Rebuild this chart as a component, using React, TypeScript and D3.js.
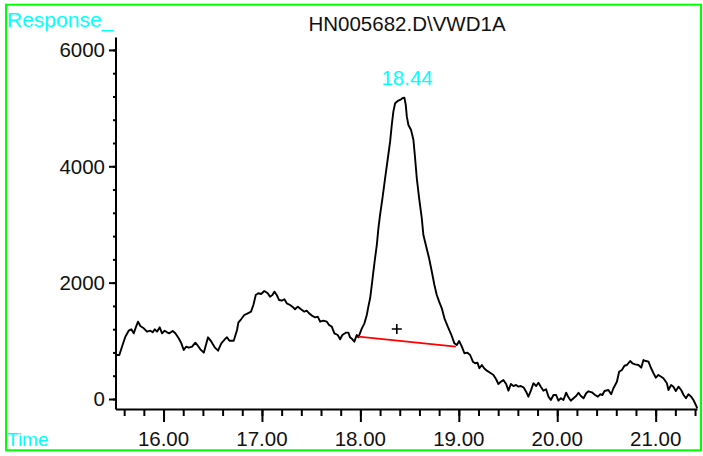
import React, { useRef, useEffect } from 'react';
import * as d3 from 'd3';

// trace (time in min, response)
const times = [
  15.510, 15.551, 15.578, 15.612, 15.646, 15.673, 15.697, 15.721, 15.741, 15.764,
  15.799, 15.832, 15.866, 15.890, 15.911, 15.934, 15.961, 15.985, 16.012, 16.036,
  16.059, 16.093, 16.120, 16.154, 16.181, 16.205, 16.229, 16.256, 16.290, 16.323,
  16.351, 16.374, 16.409, 16.452, 16.486, 16.520, 16.554, 16.587, 16.622, 16.645,
  16.669, 16.713, 16.747, 16.760, 16.788, 16.821, 16.856, 16.889, 16.913, 16.937,
  16.963, 16.991, 17.024, 17.059, 17.082, 17.106, 17.126, 17.150, 17.174, 17.201,
  17.228, 17.252, 17.286, 17.309, 17.336, 17.364, 17.397, 17.431, 17.455, 17.479,
  17.512, 17.540, 17.567, 17.591, 17.624, 17.659, 17.682, 17.709, 17.736, 17.770,
  17.794, 17.817, 17.852, 17.878, 17.895, 17.919, 17.939, 17.963, 17.980, 18.014,
  18.041, 18.065, 18.081, 18.099, 18.116, 18.132, 18.149, 18.167, 18.183, 18.200,
  18.224, 18.251, 18.279, 18.302, 18.319, 18.335, 18.353, 18.380, 18.404, 18.427,
  18.447, 18.461, 18.472, 18.488, 18.515, 18.539, 18.556, 18.573, 18.597, 18.624,
  18.640, 18.665, 18.698, 18.726, 18.752, 18.776, 18.800, 18.827, 18.854, 18.888,
  18.922, 18.955, 18.980, 19.003, 19.031, 19.057, 19.088, 19.115, 19.143, 19.166,
  19.189, 19.209, 19.234, 19.257, 19.285, 19.318, 19.352, 19.379, 19.402, 19.427,
  19.453, 19.481, 19.504, 19.529, 19.555, 19.582, 19.606, 19.630, 19.657, 19.684,
  19.707, 19.732, 19.758, 19.786, 19.809, 19.833, 19.860, 19.887, 19.911, 19.935,
  19.962, 19.989, 20.012, 20.037, 20.063, 20.091, 20.114, 20.138, 20.165, 20.192,
  20.216, 20.240, 20.267, 20.294, 20.317, 20.352, 20.385, 20.413, 20.436, 20.459,
  20.480, 20.520, 20.548, 20.571, 20.606, 20.629, 20.657, 20.683, 20.708, 20.741,
  20.764, 20.792, 20.825, 20.853, 20.876, 20.900, 20.927, 20.954, 20.978, 21.002,
  21.028, 21.056, 21.079, 21.114, 21.130, 21.157, 21.180, 21.205, 21.232, 21.259,
  21.284, 21.308, 21.333, 21.360, 21.384, 21.408, 21.422,
];
const responses = [
  756, 756, 899, 1071, 1174, 1198, 1129, 1243, 1329, 1255,
  1215, 1157, 1174, 1146, 1198, 1157, 1232, 1129, 1174, 1146,
  1129, 1169, 1129, 1043, 957, 842, 899, 882, 899, 968,
  911, 854, 796, 1060, 985, 888, 830, 957, 1026, 1060,
  1002, 1002, 1186, 1312, 1370, 1444, 1473, 1501, 1616, 1788,
  1817, 1805, 1857, 1817, 1759, 1788, 1845, 1788, 1702, 1690,
  1714, 1645, 1616, 1587, 1542, 1587, 1542, 1501, 1518, 1473,
  1427, 1404, 1415, 1329, 1346, 1329, 1272, 1243, 1129, 1100,
  1026, 1100, 1140, 1140, 1060, 1026, 985, 1100, 1060, 1210,
  1301, 1444, 1587, 1731, 1960, 2188, 2419, 2647, 2934, 3163,
  3450, 3794, 4138, 4423, 4710, 4939, 5083, 5123, 5140, 5169,
  5180, 5054, 4853, 4710, 4624, 4452, 4138, 3794, 3450, 3106,
  2819, 2647, 2419, 2188, 1960, 1788, 1673, 1559, 1387, 1243,
  1112, 957, 928, 997, 899, 786, 796, 756, 641, 614,
  624, 528, 584, 528, 487, 452, 413, 339, 258, 297,
  327, 258, 143, 258, 223, 241, 212, 223, 201, 126,
  40, 143, 270, 223, 280, 212, 143, 167, 40, -17,
  69, 69, -29, 12, -17, 108, 29, -29, 12, 52,
  108, 52, 12, 98, 132, 115, 69, 40, 81, 69,
  138, 155, 81, 184, 297, 469, 499, 572, 584, 653,
  614, 596, 584, 538, 670, 653, 641, 528, 442, 366,
  413, 383, 356, 270, 155, 241, 212, 138, 212, 155,
  69, 12, 81, 40, -17, -103, -160,
];

// integration baseline of the 18.44 peak
const baselineTimes = [17.98, 18.97];
const baselineValues = [1071, 899];
const peakLabel = '18.44';
const peakLabelTime = 18.475;
const peakLabelValue = 5400;
const markerTime = 18.37;
const markerValue = 1203;

const xMajorTicks = [16, 17, 18, 19, 20, 21];
const xTickLabels = ['16.00', '17.00', '18.00', '19.00', '20.00', '21.00'];
const yMajorTicks = [0, 2000, 4000, 6000];
const yTickLabels = ['0', '2000', '4000', '6000'];

const title = 'HN005682.D\\VWD1A';

const CYAN = '#00ffff';
const FONT = '"Liberation Sans", Arial, sans-serif';

const Chromatogram: React.FC = () => {
  const svgRef = useRef<SVGSVGElement | null>(null);

  useEffect(() => {
    if (!svgRef.current) return;
    const svg = d3.select(svgRef.current);
    svg.selectAll('*').remove();

    const x = d3.scaleLinear().domain([15.512, 21.42]).range([115.5, 697]);
    const y = d3.scaleLinear().domain([-172, 6222]).range([409, 37]);

    // green frame
    svg.append('rect')
      .attr('x', 6).attr('y', 4.7)
      .attr('width', 695).attr('height', 445.6)
      .attr('fill', 'none')
      .attr('stroke', '#00ff00')
      .attr('stroke-width', 2);

    // x axis: minor ticks then major ticks
    const xMinor = d3.range(15.6, 21.41, 0.2);
    svg.append('g')
      .attr('transform', 'translate(0,409)')
      .call(d3.axisBottom(x).tickValues(xMinor).tickSize(7).tickSizeOuter(0).tickFormat(() => ''))
      .call(g => g.selectAll('line').attr('stroke', '#000').attr('stroke-width', 2))
      .call(g => g.select('.domain').attr('stroke', '#000').attr('stroke-width', 2));
    svg.append('g')
      .attr('transform', 'translate(0,409)')
      .call(d3.axisBottom(x).tickValues(xMajorTicks).tickSize(13).tickSizeOuter(0).tickFormat(() => ''))
      .call(g => g.selectAll('line').attr('stroke', '#000').attr('stroke-width', 2))
      .call(g => g.select('.domain').remove());

    svg.append('g')
      .selectAll('text')
      .data(xMajorTicks)
      .join('text')
      .attr('x', d => x(d))
      .attr('y', 446)
      .attr('text-anchor', 'middle')
      .attr('font-family', FONT)
      .attr('font-size', 20.5)
      .attr('fill', '#111')
      .text((d, i) => xTickLabels[i]);

    // y axis
    const yMinor = d3.range(0, 6001, 400);
    svg.append('g')
      .attr('transform', 'translate(115.5,0)')
      .call(d3.axisLeft(y).tickValues(yMinor).tickSize(2.5).tickSizeOuter(0).tickFormat(() => ''))
      .call(g => g.selectAll('line').attr('stroke', '#000').attr('stroke-width', 2))
      .call(g => g.select('.domain').attr('stroke', '#000').attr('stroke-width', 2));
    svg.append('g')
      .attr('transform', 'translate(115.5,0)')
      .call(d3.axisLeft(y).tickValues(yMajorTicks).tickSize(6.5).tickSizeOuter(0).tickFormat(() => ''))
      .call(g => g.selectAll('line').attr('stroke', '#000').attr('stroke-width', 2))
      .call(g => g.select('.domain').remove());

    svg.append('g')
      .selectAll('text')
      .data(yMajorTicks)
      .join('text')
      .attr('x', 105)
      .attr('y', d => y(d))
      .attr('dy', '0.36em')
      .attr('text-anchor', 'end')
      .attr('font-family', FONT)
      .attr('font-size', 20.5)
      .attr('fill', '#111')
      .text((d, i) => yTickLabels[i]);

    // signal trace
    const pts = times.map((t, i) => [t, responses[i]] as [number, number]);
    svg.append('path')
      .datum(pts)
      .attr('fill', 'none')
      .attr('stroke', '#000')
      .attr('stroke-width', 1.9)
      .attr('stroke-linejoin', 'round')
      .attr('d', d3.line<[number, number]>().x(d => x(d[0])).y(d => y(d[1])));

    // baseline
    svg.append('path')
      .datum(baselineTimes.map((t, i) => [t, baselineValues[i]] as [number, number]))
      .attr('fill', 'none')
      .attr('stroke', '#ff0000')
      .attr('stroke-width', 1.8)
      .attr('d', d3.line<[number, number]>().x(d => x(d[0])).y(d => y(d[1])));

    // + marker
    const mx = x(markerTime);
    const my = y(markerValue);
    svg.append('path')
      .attr('d', `M${mx - 5},${my}H${mx + 5}M${mx},${my - 5}V${my + 5}`)
      .attr('stroke', '#000')
      .attr('stroke-width', 1.6);

    // peak label
    svg.append('text')
      .attr('x', x(peakLabelTime))
      .attr('y', y(peakLabelValue))
      .attr('text-anchor', 'middle')
      .attr('font-family', FONT)
      .attr('font-size', 20.5)
      .attr('fill', CYAN)
      .text(peakLabel);

    // title and corner labels
    svg.append('text')
      .attr('x', 407)
      .attr('y', 31)
      .attr('text-anchor', 'middle')
      .attr('font-family', FONT)
      .attr('font-size', 20.5)
      .attr('fill', '#111')
      .text(title);

    svg.append('text')
      .attr('x', 7)
      .attr('y', 26.5)
      .attr('font-family', FONT)
      .attr('font-size', 21)
      .attr('fill', CYAN)
      .text('Response_');

    svg.append('text')
      .attr('x', 7)
      .attr('y', 446)
      .attr('font-family', FONT)
      .attr('font-size', 19)
      .attr('fill', CYAN)
      .text('Time');

    return () => {
      d3.select(svgRef.current).selectAll('*').remove();
    };
  }, []);

  return (
    <svg
      ref={svgRef}
      width={703}
      height={456}
      style={{ position: 'absolute', left: 0, top: 0, display: 'block', background: '#fff' }}
    />
  );
};

export default function App() {
  return <Chromatogram />;
}
